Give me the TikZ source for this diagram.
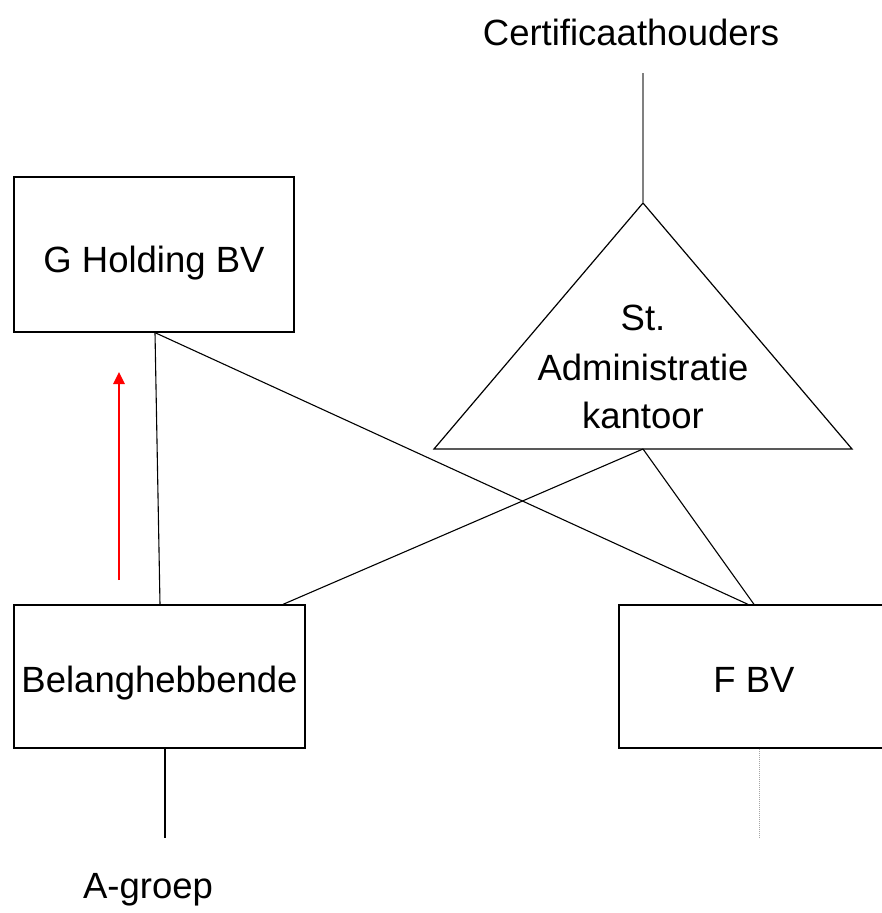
\documentclass[tikz,border=0pt]{standalone}
\usepackage{fontspec}
\setmainfont{Liberation Sans}
\begin{document}
\begin{tikzpicture}[x=1pt,y=-1pt,
  every node/.style={font=\fontsize{36.5}{48}\selectfont},
  entity/.style={draw,line width=1.3pt,inner sep=0pt},
  link/.style={line width=1.1pt},
  label/.style={anchor=base,inner sep=0pt}]
\useasboundingbox (0,0) rectangle (882,913);
\clip (0,0) rectangle (882,913);
\fill[white] (0,0) rectangle (882,913);

% boxes
\node[entity,minimum width=280pt,minimum height=155pt] (ghold) at (154,254.5) {};
\node[label] (gholdtxt) at (154,272) {G Holding BV};
\node[entity,minimum width=291pt,minimum height=143pt] (belang) at (159.5,676.5) {};
\node[label] (belangtxt) at (159.5,692) {Belanghebbende};
\node[entity,minimum width=272pt,minimum height=143pt] (fbv) at (755,676.5) {};
\node[label] (fbvtxt) at (754,692) {F BV};

% trust office triangle
\coordinate (sakTop) at (643,203);
\coordinate (sakBase) at (643,449);
\draw[line width=1.2pt,line join=miter] (sakTop) -- (852,449) -- (434,449) -- cycle;
\node[label,align=center] (sak) at (643,330) {St.};
\node[label] (sak2) at (643,380) {Administratie};
\node[label] (sak3) at (643,428) {kantoor};

% outer parties
\node[label] (cert) at (631,45) {Certificaathouders};
\coordinate (certEnd) at (643,73);
\node[label] (agroep) at (148,898) {A-groep};
\coordinate (agEnd) at (165,838);
\coordinate (fEnd) at (759,838);

% connectors
\draw[link,gray] (certEnd) -- (sakTop);
\draw[link] (ghold.south -| 155,0) -- (belang.north -| 160,0);
\draw[link] (ghold.south -| 155,0) -- (fbv.north -| 748,0);
\draw[link] (sakBase) -- (belang.north -| 283,0);
\draw[link] (sakBase) -- (fbv.north -| 754,0);
\draw[link] (belang.south -| 165,0) -- (agEnd);
\draw[line width=1pt,gray!70,densely dotted] (fbv.south -| 759,0) -- (fEnd);

% red arrow
\coordinate (arrLow) at (119,580);
\coordinate (arrHigh) at (119,372);
\draw[red,line width=1.8pt] (arrLow) -- (119,383);
\fill[red] (arrHigh) -- (125,384) -- (113,384) -- cycle;
\end{tikzpicture}
\end{document}
